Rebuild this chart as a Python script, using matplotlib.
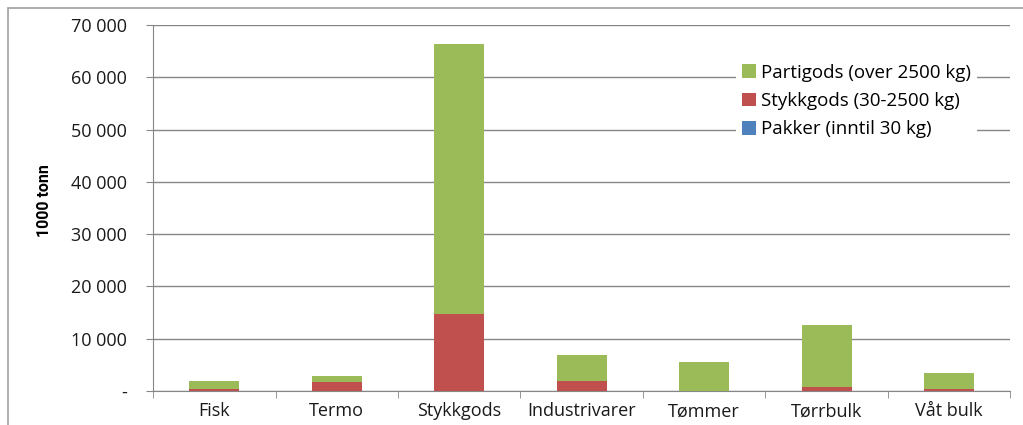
import numpy as np
import matplotlib.pyplot as plt
from matplotlib.patches import Rectangle
from matplotlib.ticker import FuncFormatter

categories = ["Fisk", "Termo", "Stykkgods", "Industrivarer", "Tømmer", "Tørrbulk", "Våt bulk"]
pakker = [20, 20, 30, 20, 10, 20, 10]
stykkgods = [400, 1700, 14700, 1900, 40, 820, 330]
partigods = [1500, 1100, 51650, 4980, 5460, 11780, 3100]

GREEN = "#9bbb59"
RED = "#c0504d"
BLUE = "#4f81bd"
GRID = "#868686"


def fmt(v, pos):
    if v == 0:
        return "-"
    return f"{int(v):,}".replace(",", " ")


def main():
    plt.rcParams.update({"font.family": "Open Sans", "font.size": 12})
    fig = plt.figure(figsize=(10.23, 4.25), dpi=100)
    ax = fig.add_axes([0.1496, 0.08, 0.838, 0.861])

    x = np.arange(len(categories))
    p = np.array(pakker)
    s = np.array(stykkgods)
    g = np.array(partigods)
    w = 0.41
    ax.bar(x, p, w, color=BLUE, label="Pakker (inntil 30 kg)", zorder=3)
    ax.bar(x, s, w, bottom=p, color=RED, label="Stykkgods (30-2500 kg)", zorder=3)
    ax.bar(x, g, w, bottom=p + s, color=GREEN, label="Partigods (over 2500 kg)", zorder=3)

    ax.set_xlim(-0.5, len(categories) - 0.5)
    ax.set_ylim(0, 70000)
    ax.set_yticks(np.arange(0, 70001, 10000))
    ax.yaxis.set_major_formatter(FuncFormatter(fmt))
    ax.grid(axis="y", color=GRID, linewidth=1.0, zorder=0)
    ax.set_axisbelow(True)

    ax.set_xticks(x)
    ax.set_xticklabels(categories, fontsize=13, color="#1a1a1a")
    ax.set_xticks(np.arange(-0.5, len(categories), 1), minor=True)
    ax.tick_params(axis="x", which="major", length=0, pad=8)
    ax.tick_params(axis="x", which="minor", length=5, color=GRID)
    ax.tick_params(axis="y", length=5, color=GRID, labelsize=13, labelcolor="#1a1a1a", pad=14)

    for side in ("top", "right"):
        ax.spines[side].set_visible(False)
    for side in ("left", "bottom"):
        ax.spines[side].set_color(GRID)

    ax.set_ylabel("1000 tonn", family="Roboto", fontsize=11.5, fontweight="bold",
                  fontstretch="condensed")
    ax.yaxis.set_label_coords(-0.118, 0.52)

    handles, labels = ax.get_legend_handles_labels()
    leg = ax.legend(handles[::-1], labels[::-1], loc="upper left", bbox_to_anchor=(0.68, 0.91),
                    frameon=True, framealpha=1, edgecolor="white", fontsize=13.5,
                    handlelength=0.75, handleheight=0.75, handletextpad=0.3,
                    labelspacing=0.55, borderpad=0.3, borderaxespad=0)
    leg.get_frame().set_linewidth(0)

    fig.patches.append(Rectangle((0.008, -0.01), 1.2, 0.992, transform=fig.transFigure,
                                 fill=False, edgecolor="#a0a0a0", linewidth=1.2))

    fig.savefig("out.png", dpi=100)
    plt.close(fig)


if __name__ == "__main__":
    main()
